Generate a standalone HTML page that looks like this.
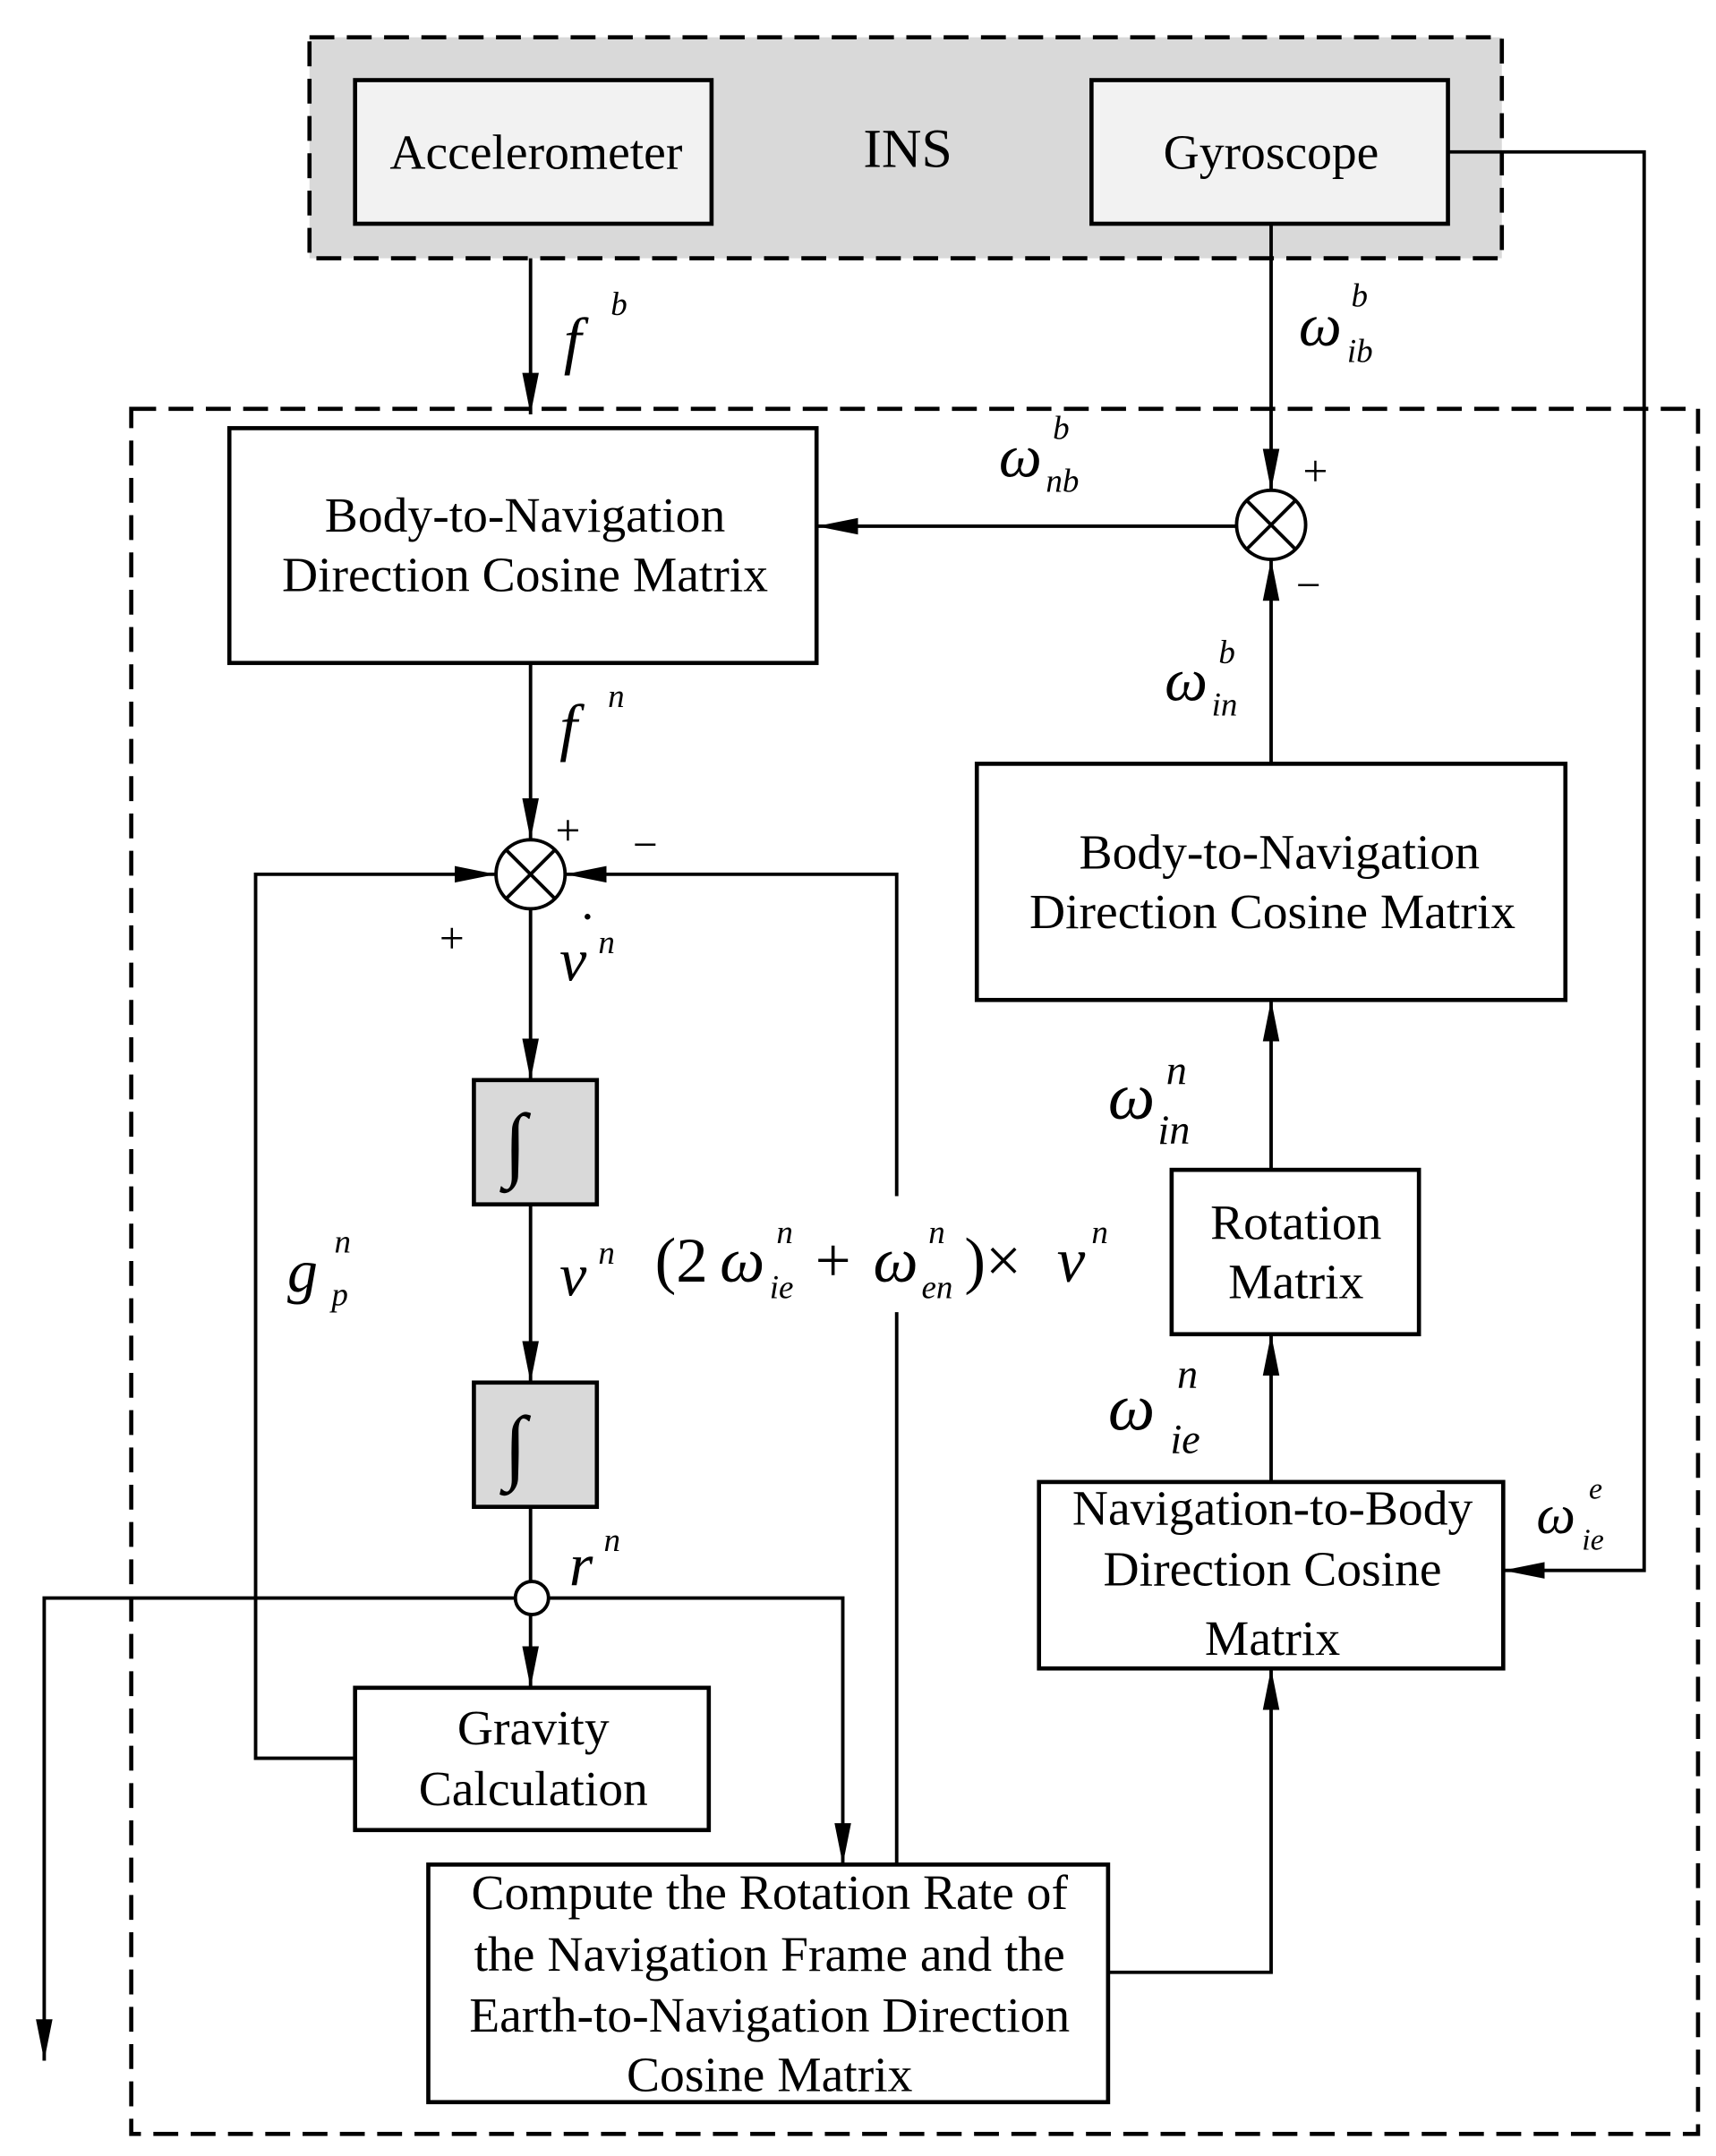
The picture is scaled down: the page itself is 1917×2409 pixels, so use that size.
<!DOCTYPE html>
<html><head><meta charset="utf-8"><style>html,body{margin:0;padding:0;background:#fff}svg{display:block}
text{font-family:"Liberation Serif",serif;fill:#000}
.t{font-size:36px;text-anchor:middle}
.m{font-style:italic}
</style></head><body>
<svg width="1917" height="2409" viewBox="0 0 1242 1561" preserveAspectRatio="none" xmlns="http://www.w3.org/2000/svg">
<defs>
<marker id="b" viewBox="0 0 10 10" refX="10" refY="5" markerWidth="30" markerHeight="30" markerUnits="userSpaceOnUse" orient="auto"><path d="M0,3 L10,5 L0,7 z" fill="#000"/></marker></defs>
<g stroke="#000" fill="none" stroke-width="3">
<rect x="224" y="27" width="863" height="160" fill="#d9d9d9" stroke-dasharray="18,9"/>
<rect x="257" y="58" width="258" height="104" fill="#f2f2f2"/>
<rect x="790" y="58" width="258" height="104" fill="#f2f2f2"/>
<rect x="95" y="296" width="1134" height="1249" stroke-dasharray="18,9"/>
<rect x="166" y="310" width="425" height="170" fill="#fff"/>
<rect x="707" y="553" width="426" height="171" fill="#fff"/>
<rect x="848" y="847" width="179" height="119" fill="#fff"/>
<rect x="752" y="1073" width="336" height="135" fill="#fff"/>
<rect x="343" y="782" width="89" height="90" fill="#d9d9d9"/>
<rect x="343" y="1001" width="89" height="90" fill="#d9d9d9"/>
<rect x="257" y="1222" width="256" height="103" fill="#fff"/>
<rect x="310" y="1350" width="492" height="172" fill="#fff"/>
</g>
<g stroke="#000" fill="none" stroke-width="2.5">
<line x1="384" y1="187" x2="384" y2="300" marker-end="url(#b)"/>
<line x1="920" y1="162" x2="920" y2="355" marker-end="url(#b)"/>
<polyline points="1048,110 1190,110 1190,1137 1088,1137" marker-end="url(#b)"/>
<line x1="895" y1="381" x2="591" y2="381" marker-end="url(#b)"/>
<circle cx="920" cy="380" r="25" fill="#fff"/>
<line x1="902" y1="362" x2="938" y2="398"/><line x1="938" y1="362" x2="902" y2="398"/>
<line x1="920" y1="553" x2="920" y2="405" marker-end="url(#b)"/>
<line x1="384" y1="480" x2="384" y2="608" marker-end="url(#b)"/>
<circle cx="384" cy="633" r="25" fill="#fff"/>
<line x1="366" y1="615" x2="402" y2="651"/><line x1="402" y1="615" x2="366" y2="651"/>
<polyline points="257,1273 185,1273 185,633 359,633" marker-end="url(#b)"/>
<polyline points="649,866 649,633 409,633" marker-end="url(#b)"/>
<line x1="649" y1="950" x2="649" y2="1350"/>
<line x1="384" y1="658" x2="384" y2="782" marker-end="url(#b)"/>
<line x1="384" y1="872" x2="384" y2="1001" marker-end="url(#b)"/>
<line x1="384" y1="1091" x2="384" y2="1145"/>
<line x1="384" y1="1169" x2="384" y2="1222" marker-end="url(#b)"/>
<polyline points="373,1157 32,1157 32,1492" marker-end="url(#b)"/>
<polyline points="397,1157 610,1157 610,1350" marker-end="url(#b)"/>
<circle cx="385" cy="1157" r="12" fill="#fff"/>
<polyline points="802,1428 920,1428 920,1208" marker-end="url(#b)"/>
<line x1="920" y1="1073" x2="920" y2="966" marker-end="url(#b)"/>
<line x1="920" y1="847" x2="920" y2="724" marker-end="url(#b)"/>
</g>
<text class="t" x="388" y="122">Accelerometer</text>
<text class="t" x="657" y="121" style="font-size:40px">INS</text>
<text class="t" x="920" y="122">Gyroscope</text>
<text class="t" x="380" y="385">Body-to-Navigation</text>
<text class="t" x="380" y="428">Direction Cosine Matrix</text>
<text class="t" x="926" y="629">Body-to-Navigation</text>
<text class="t" x="921" y="672">Direction Cosine Matrix</text>
<text class="t" x="938" y="897">Rotation</text>
<text class="t" x="938" y="940">Matrix</text>
<text class="t" x="921" y="1104">Navigation-to-Body</text>
<text class="t" x="921" y="1148">Direction Cosine</text>
<text class="t" x="921" y="1198">Matrix</text>
<text class="t" x="386" y="1263">Gravity</text>
<text class="t" x="386" y="1307">Calculation</text>
<text class="t" x="557" y="1382">Compute the Rotation Rate of</text>
<text class="t" x="557" y="1427">the Navigation Frame and the</text>
<text class="t" x="557" y="1471">Earth-to-Navigation Direction</text>
<text class="t" x="557" y="1514">Cosine Matrix</text>
<text x="373" y="848" style="font-size:60px;text-anchor:middle">∫</text>
<text x="373" y="1067" style="font-size:60px;text-anchor:middle">∫</text>
<g class="m">
<text x="408" y="262" style="font-size:46px">f</text><text x="442" y="228" style="font-size:24px">b</text>
<text x="940" y="250" style="font-size:44px">ω</text><text x="978" y="222" style="font-size:24px">b</text><text x="975" y="262" style="font-size:24px">ib</text>
<text x="723" y="345" style="font-size:44px">ω</text><text x="762" y="318" style="font-size:24px">b</text><text x="757" y="356" style="font-size:24px">nb</text>
<text x="405" y="542" style="font-size:46px">f</text><text x="440" y="512" style="font-size:24px">n</text>
<text x="843" y="507" style="font-size:44px">ω</text><text x="882" y="480" style="font-size:24px">b</text><text x="877" y="518" style="font-size:24px">in</text>
<text x="405" y="710" style="font-size:44px">v</text><text x="416" y="688" style="font-size:40px">˙</text><text x="433" y="690" style="font-size:24px">n</text>
<text x="405" y="938" style="font-size:44px">v</text><text x="433" y="915" style="font-size:24px">n</text>
<text x="412" y="1148" style="font-size:44px">r</text><text x="437" y="1123" style="font-size:24px">n</text>
<text x="208" y="935" style="font-size:44px">g</text><text x="242" y="907" style="font-size:24px">n</text><text x="240" y="945" style="font-size:24px">p</text>
<text x="802" y="810" style="font-size:48px">ω</text><text x="844" y="785" style="font-size:30px">n</text><text x="838" y="828" style="font-size:30px">in</text>
<text x="802" y="1035" style="font-size:48px">ω</text><text x="852" y="1005" style="font-size:30px">n</text><text x="847" y="1052" style="font-size:30px">ie</text>
<text x="1112" y="1110" style="font-size:40px">ω</text><text x="1150" y="1085" style="font-size:22px">e</text><text x="1145" y="1122" style="font-size:22px">ie</text>
</g>
<text x="474" y="928" style="font-size:46px">(2</text>
<text x="521" y="928" class="m" style="font-size:46px">ω</text><text x="562" y="900" class="m" style="font-size:24px">n</text><text x="557" y="940" class="m" style="font-size:24px">ie</text>
<text x="590" y="928" style="font-size:46px">+</text>
<text x="632" y="928" class="m" style="font-size:46px">ω</text><text x="672" y="900" class="m" style="font-size:24px">n</text><text x="667" y="940" class="m" style="font-size:24px">en</text>
<text x="698" y="928" style="font-size:46px">)×</text>
<text x="765" y="928" class="m" style="font-size:46px">v</text><text x="790" y="900" class="m" style="font-size:24px">n</text>
<g style="font-size:32px">
<text x="943" y="352">+</text><text x="938" y="434">−</text>
<text x="402" y="612">+</text><text x="458" y="622">−</text><text x="318" y="690">+</text>
</g>
</svg>
</body></html>
